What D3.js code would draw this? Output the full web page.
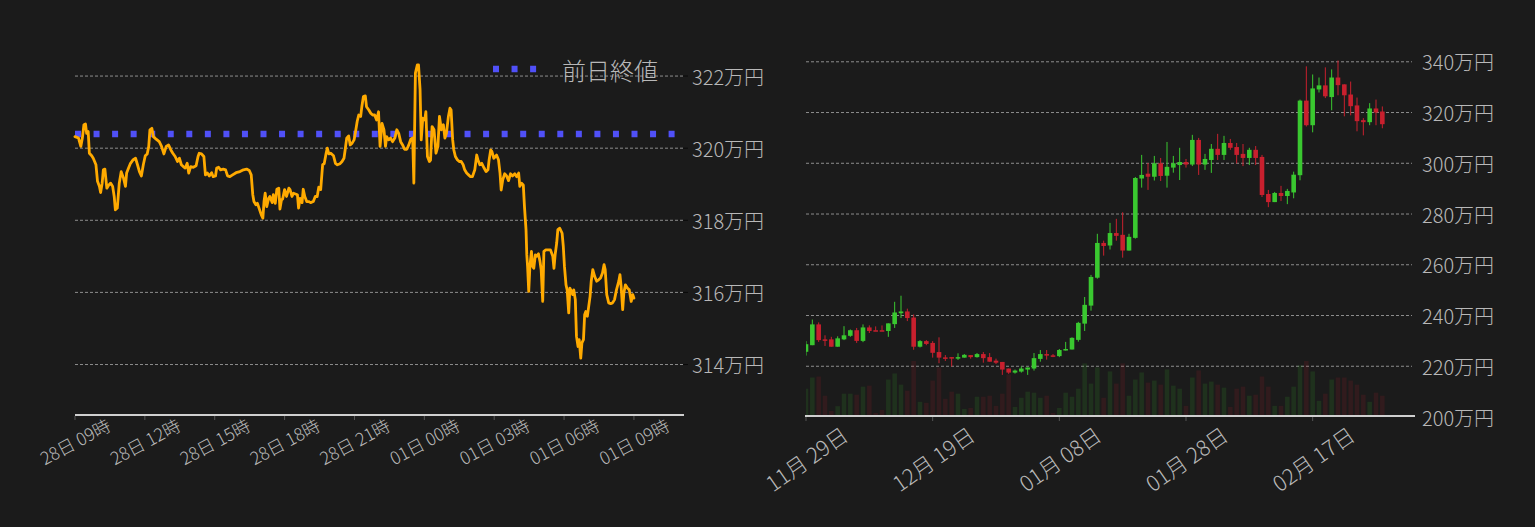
<!DOCTYPE html>
<html><head><meta charset="utf-8">
<script src="https://cdn.jsdelivr.net/npm/d3@7"></script>
<style>
html,body{margin:0;padding:0;background:#1b1b1b;}
svg{display:block;font-family:"Noto Sans CJK JP","Noto Sans",sans-serif;}
</style></head>
<body>
<svg id="chart" width="1535" height="527"></svg>
<script>
// ---------- Intraday (left) data: [minutes since 28日 09:00, price in 万円] ----------
const intradayStart = new Date(2025, 1, 28, 9, 0);
const intradayPoints = [
[0,320.32],[9,320.28],[15,320.05],[19,320.28],[23,320.65],[27,320.67],[30,320.41],[34,320.46],[37,319.86],[43,319.79],
[47,319.72],[54,319.54],[58,319.08],[63,318.94],[66,318.77],[70,319.03],[73,319.40],[77,319.42],[82,318.89],[87,318.98],
[92,319.03],[97,318.94],[101,318.66],[104,318.29],[109,318.34],[114,319.03],[119,319.35],[125,319.17],[130,318.94],[133,319.31],
[138,319.45],[143,319.58],[150,319.68],[156,319.72],[161,319.54],[166,319.35],[171,319.23],[176,319.54],[181,319.79],[186,319.84],
[190,320.05],[193,320.51],[198,320.55],[202,320.32],[209,320.25],[217,320.18],[223,320.05],[229,319.84],[235,320.05],[241,320.09],
[247,319.95],[252,319.86],[258,319.77],[264,319.63],[269,319.72],[274,319.54],[279,319.49],[284,319.45],[289,319.58],[293,319.31],
[298,319.49],[305,319.47],[312,319.51],[317,319.77],[320,319.86],[326,319.84],[332,319.77],[336,319.26],[341,319.31],[346,319.23],
[352,319.32],[356,319.21],[362,319.23],[365,319.45],[370,319.47],[375,319.40],[382,319.42],[388,319.40],[393,319.23],[399,319.21],
[406,319.26],[415,319.32],[425,319.35],[434,319.40],[442,319.42],[449,319.38],[454,319.26],[458,318.71],[461,318.52],[466,318.43],
[470,318.47],[475,318.31],[480,318.15],[484,318.06],[487,318.52],[490,318.75],[494,318.38],[499,318.61],[502,318.66],[508,318.49],
[511,318.71],[516,318.47],[520,318.86],[525,318.89],[528,318.31],[532,318.57],[535,318.59],[540,318.85],[545,318.66],[551,318.89],
[554,318.85],[559,318.66],[563,318.75],[568,318.73],[573,318.71],[576,318.34],[580,318.61],[585,318.49],[588,318.86],[592,318.66],
[597,318.52],[602,318.52],[607,318.49],[614,318.52],[619,318.66],[624,318.66],[628,318.92],[633,318.85],[638,319.54],[642,319.57],
[647,319.86],[650,320.00],[654,319.84],[659,319.86],[666,319.79],[671,319.58],[676,319.54],[683,319.57],[688,319.63],[693,319.72],
[696,319.95],[700,320.28],[705,320.34],[709,320.09],[714,320.14],[719,320.23],[722,320.41],[727,320.74],[731,320.92],[736,320.88],
[739,321.15],[743,321.43],[748,321.45],[751,321.15],[757,321.06],[762,320.97],[767,320.92],[772,320.92],[777,320.78],[782,321.01],
[786,320.05],[791,320.69],[796,320.51],[800,320.05],[803,320.32],[808,320.23],[813,320.28],[818,320.18],[824,320.28],[829,320.51],
[834,320.41],[839,320.18],[844,320.09],[849,319.97],[855,319.97],[860,320.09],[865,320.25],[870,320.28],[873,319.03],[877,322.08],
[882,322.31],[885,322.31],[889,321.63],[892,320.23],[896,320.83],[901,320.78],[904,321.01],[908,319.77],[913,319.63],[916,319.67],
[920,320.60],[925,320.51],[930,319.86],[935,320.05],[939,320.88],[944,320.51],[949,320.65],[953,320.28],[957,320.41],[962,320.88],
[966,321.11],[969,321.06],[973,320.23],[976,319.95],[980,319.77],[985,319.68],[990,319.63],[995,319.63],[1000,319.54],[1004,319.40],
[1009,319.31],[1014,319.26],[1019,319.21],[1024,319.21],[1030,319.40],[1035,319.81],[1038,319.68],[1043,319.54],[1048,319.58],[1054,319.45],
[1059,319.35],[1064,319.40],[1067,319.68],[1071,319.95],[1074,319.91],[1079,319.72],[1086,319.81],[1091,319.68],[1095,319.31],[1098,318.84],
[1102,319.12],[1107,319.29],[1112,319.23],[1117,319.10],[1122,319.29],[1127,319.23],[1133,319.29],[1138,319.21],[1143,319.31],[1146,318.94],
[1150,319.03],[1155,318.98],[1158,318.38],[1162,317.74],[1164,317.04],[1166,316.72],[1169,316.03],[1172,316.72],[1176,317.14],[1179,316.72],
[1182,316.67],[1186,317.04],[1189,317.00],[1194,317.07],[1198,316.86],[1201,316.63],[1205,315.75],[1208,317.14],[1213,317.18],[1220,317.18],
[1225,317.18],[1231,317.00],[1234,316.67],[1237,317.04],[1241,317.37],[1244,317.74],[1249,317.78],[1255,317.64],[1258,317.28],[1261,316.72],
[1265,316.21],[1268,316.07],[1272,315.43],[1275,316.12],[1279,316.03],[1282,315.94],[1285,316.07],[1289,315.80],[1292,314.78],[1296,314.50],
[1299,314.69],[1303,314.18],[1306,314.60],[1310,314.69],[1313,315.38],[1316,315.47],[1320,315.34],[1323,315.57],[1327,315.89],[1330,316.31],
[1334,316.63],[1339,316.44],[1344,316.31],[1349,316.35],[1354,316.40],[1359,316.54],[1363,316.77],[1366,316.63],[1370,315.94],[1375,315.71],
[1380,315.69],[1385,315.71],[1390,315.80],[1395,316.07],[1401,316.31],[1404,316.49],[1407,316.17],[1411,315.52],[1414,315.98],[1418,316.21],
[1423,316.12],[1428,316.07],[1433,315.75],[1437,315.94],[1440,315.84]
];
const previousClose = 320.39;
const leftYTicks = [314, 316, 318, 320, 322];
const leftXTickHours = [0, 3, 6, 9, 12, 15, 18, 21, 24];
const legendLabel = "前日終値";

// ---------- Daily candles (right) ----------
const candleStart = new Date(2024, 10, 29);
const candleOpen  = [225.7,228.3,236.5,230.6,230.6,227.7,230.6,232.0,234.2,230.0, 235.3,234.2,234.2,233.9,236.6,240.9,241.6,239.2,227.7,229.9,
  229.2,225.6,223.5,223.6,223.0,223.4,224.4,223.6,224.8,223.6, 222.2,221.7,219.1,217.5,217.9,218.7,219.1,222.9,224.8,224.3,
  224.0,226.2,226.6,230.4,236.8,243.9,254.9,268.6,267.6,272.5, 271.8,265.6,270.6,294.0,295.9,294.7,300.0,295.1,298.3,299.3,
  300.5,299.5,309.2,299.5,301.3,305.7,303.3,308.0,306.4,303.7, 302.1,305.3,302.5,287.9,284.7,288.3,287.1,288.5,295.3,324.7,
  315.0,329.1,330.7,326.1,333.8,331.1,327.1,322.8,317.0,316.2, 321.6,320.4];
const candleHigh  = [229.9,238.4,237.3,232.2,231.6,231.8,235.8,234.5,235.1,236.5, 236.1,235.7,236.1,236.9,245.4,247.8,242.7,240.4,230.3,230.3,
  229.9,231.4,224.4,223.6,225.1,224.8,224.4,225.2,225.6,225.2, 223.0,221.7,219.1,218.7,219.9,219.5,225.2,226.4,226.4,224.8,
  226.8,229.6,231.4,237.5,247.3,256.0,272.2,269.5,276.5,278.1, 280.7,272.2,294.6,303.3,300.1,302.9,302.1,308.4,302.9,306.1,
  301.7,311.2,310.0,303.7,307.6,311.6,310.8,309.6,308.0,307.6, 306.1,306.8,303.3,289.5,288.7,291.1,289.9,296.7,325.1,338.2,
  335.0,333.8,337.8,337.0,340.5,331.1,332.2,325.9,317.8,323.7, 325.1,322.4];
const candleLow   = [224.2,228.3,229.6,228.0,227.7,227.7,230.3,231.6,229.2,229.5, 233.1,234.0,234.0,231.6,235.1,239.0,237.8,226.5,227.4,228.3,
  223.4,221.2,222.1,219.9,222.5,223.4,223.0,223.4,221.4,221.8, 220.9,216.6,217.0,217.1,217.5,216.6,218.3,221.8,222.6,223.6,
  223.6,226.2,226.6,229.7,233.9,241.9,254.5,263.6,266.0,269.5, 262.8,265.6,270.3,290.4,289.5,293.2,293.0,290.4,296.3,293.4,
  298.3,298.9,295.4,297.4,296.2,301.3,301.3,305.3,299.9,298.9, 299.3,299.3,286.7,282.7,284.7,285.1,283.9,286.2,293.3,314.5,
  312.2,327.9,325.7,320.9,326.8,318.5,318.9,312.6,311.0,315.0, 315.0,313.8];
const candleClose = [228.7,236.5,230.3,230.3,227.7,231.0,232.2,234.2,230.0,235.3, 233.9,234.0,234.0,236.9,241.2,241.6,239.0,227.7,229.9,228.8,
  225.3,223.4,223.4,223.1,223.6,224.5,223.6,224.8,223.2,221.8, 221.4,218.7,217.5,218.3,219.1,219.5,223.2,224.8,224.2,224.2,
  226.4,226.8,231.2,237.1,244.2,255.2,268.6,267.4,272.5,271.4, 265.6,271.0,294.2,295.4,294.7,300.0,295.0,298.6,300.0,300.5,
  299.5,309.2,299.5,301.7,305.7,303.3,308.0,306.1,303.3,302.1, 305.3,302.1,287.5,284.7,288.3,287.1,289.1,295.5,324.7,315.0,
  329.5,330.7,326.4,333.8,330.8,326.8,322.5,316.6,316.2,321.6, 320.0,315.4];
const candleVolume = [81,114,117,60,15,29,66,66,63,87, 90,9,18,108,126,93,75,163,42,39,
  105,144,51,72,66,21,24,57,57,60, 30,66,123,27,54,72,69,54,60,9,
  24,69,57,81,156,96,144,54,132,96, 156,60,108,129,99,105,93,138,90,81,
  30,114,135,96,102,93,84,27,81,87, 60,63,117,87,30,30,57,87,150,163,
  132,45,66,108,114,114,105,93,63,42, 69,60];
const rightYTicks = [200, 220, 240, 260, 280, 300, 320, 340];
const rightXTickDays = [0, 20, 40, 60, 80];

// ---------- styles ----------
const BG = "#1b1b1b", GRID = "#9a9a9a", TXT = "#b8b8b8", AXIS = "#cfcfcf";
const ORANGE = "#ffaa00", BLUE = "#5050f8", UP = "#3ac830", DOWN = "#c8202e";

const svg = d3.select("#chart");
svg.append("rect").attr("width",1535).attr("height",527).attr("fill",BG);

// ================= LEFT CHART =================
const L = {x0:75, x1:684, yTop:40, yBot:415};
const lx = d3.scaleTime()
  .domain([intradayStart, d3.timeMinute.offset(intradayStart, 1569)])
  .range([L.x0, L.x1]);
const ly = d3.scaleLinear().domain([312.6, 323.0]).range([L.yBot, L.yTop]);
const gl = svg.append("g");

// grid
gl.selectAll("line.grid").data(leftYTicks).join("line")
  .attr("x1", L.x0).attr("x2", L.x1 - 1)
  .attr("y1", d => ly(d)).attr("y2", d => ly(d))
  .attr("stroke", GRID).attr("stroke-width", 0.9).attr("stroke-dasharray", "3,2");
gl.selectAll("line.ytk").data(leftYTicks).join("line")
  .attr("x1", L.x1 - 1).attr("x2", L.x1 + 4)
  .attr("y1", d => ly(d)).attr("y2", d => ly(d))
  .attr("stroke", "#0a0a0a").attr("stroke-width", 1);
gl.selectAll("text.ylab").data(leftYTicks).join("text")
  .attr("x", L.x1 + 8).attr("y", d => ly(d))
  .attr("dominant-baseline", "central")
  .attr("fill", TXT).attr("font-size", 20).attr("font-weight", 300)
  .text(d => d + "万円");

// previous close dotted line
gl.append("line")
  .attr("x1", lx.range()[0]).attr("x2", lx.range()[1])
  .attr("y1", ly(previousClose)).attr("y2", ly(previousClose))
  .attr("stroke", BLUE).attr("stroke-width", 6.5).attr("stroke-dasharray", "6,12.55");

// price line
const line = d3.line()
  .x(d => lx(d3.timeMinute.offset(intradayStart, d[0])))
  .y(d => ly(d[1]));
gl.append("path").datum(intradayPoints)
  .attr("d", line).attr("fill", "none")
  .attr("stroke", ORANGE).attr("stroke-width", 2.8)
  .attr("stroke-linejoin", "round").attr("stroke-linecap", "round");

// x axis
gl.append("line").attr("x1", L.x0).attr("x2", L.x1)
  .attr("y1", L.yBot).attr("y2", L.yBot)
  .attr("stroke", AXIS).attr("stroke-width", 2);
const lTickDates = leftXTickHours.map(h => d3.timeHour.offset(intradayStart, h));
const lfmt = d3.timeFormat("%d日 %H時");
gl.selectAll("line.xtk").data(lTickDates).join("line")
  .attr("x1", d => lx(d)).attr("x2", d => lx(d))
  .attr("y1", L.yBot + 1).attr("y2", L.yBot + 5)
  .attr("stroke", "#555").attr("stroke-width", 1);
gl.selectAll("text.xlab").data(lTickDates).join("text")
  .attr("transform", d => `translate(${lx(d)},${L.yBot + 26}) rotate(-28)`)
  .attr("text-anchor", "middle").attr("dominant-baseline", "central")
  .attr("fill", TXT).attr("font-size", 17.5).attr("font-weight", 300)
  .text(d => lfmt(d));

// legend
gl.append("line").attr("x1", 493).attr("x2", 540).attr("y1", 69).attr("y2", 69)
  .attr("stroke", BLUE).attr("stroke-width", 6.5).attr("stroke-dasharray", "6,12.55");
gl.append("text").attr("x", 562).attr("y", 69)
  .attr("dominant-baseline", "central")
  .attr("fill", TXT).attr("font-size", 24).attr("font-weight", 300)
  .text(legendLabel);

// ================= RIGHT CHART =================
const R = {x0:806, x1:1414, yTop:49.1, yBot:417};
const rx = d3.scaleTime()
  .domain([candleStart, d3.timeDay.offset(candleStart, 96)])
  .range([R.x0, R.x1]);
const ry = d3.scaleLinear().domain([200, 345]).range([R.yBot, R.yTop]);
const vy = d3.scaleLinear().domain([0, 163]).range([416, 361]);
const gr = svg.append("g");

svg.append("clipPath").attr("id", "rclip").append("rect")
  .attr("x", R.x0).attr("y", 0).attr("width", R.x1 - R.x0).attr("height", 416);

gr.selectAll("line.grid").data(rightYTicks.filter(d => d > 200)).join("line")
  .attr("x1", R.x0).attr("x2", R.x1 - 2)
  .attr("y1", d => ry(d)).attr("y2", d => ry(d))
  .attr("stroke", GRID).attr("stroke-width", 0.9).attr("stroke-dasharray", "3,2");
gr.selectAll("text.ylab").data(rightYTicks).join("text")
  .attr("x", R.x1 + 8).attr("y", d => ry(d))
  .attr("dominant-baseline", "central")
  .attr("fill", TXT).attr("font-size", 20).attr("font-weight", 300)
  .text(d => d + "万円");

const candles = candleOpen.map((o, i) => ({
  date: d3.timeDay.offset(candleStart, i),
  o, h: candleHigh[i], l: candleLow[i], c: candleClose[i], v: candleVolume[i]
}));
const bw = 4.6;
const cg = gr.append("g").attr("clip-path", "url(#rclip)");

// volume bars
cg.selectAll("rect.vol").data(candles).join("rect")
  .attr("x", d => rx(d.date) - bw / 2).attr("width", bw)
  .attr("y", d => vy(d.v)).attr("height", d => vy(0) - vy(d.v))
  .attr("fill", d => d.c >= d.o ? UP : DOWN).attr("fill-opacity", 0.13);

// wicks
cg.selectAll("line.wick").data(candles).join("line")
  .attr("x1", d => rx(d.date)).attr("x2", d => rx(d.date))
  .attr("y1", d => ry(d.h)).attr("y2", d => ry(d.l))
  .attr("stroke", d => d.c >= d.o ? UP : DOWN).attr("stroke-width", 1);
// bodies
cg.selectAll("rect.body").data(candles).join("rect")
  .attr("x", d => rx(d.date) - bw / 2).attr("width", bw)
  .attr("y", d => ry(Math.max(d.o, d.c)))
  .attr("height", d => Math.max(1.5, Math.abs(ry(d.o) - ry(d.c))))
  .attr("fill", d => d.c >= d.o ? UP : DOWN);

// x axis
gr.append("line").attr("x1", R.x0 - 1).attr("x2", R.x1 + 1)
  .attr("y1", 416).attr("y2", 416)
  .attr("stroke", AXIS).attr("stroke-width", 2);
const rTickDates = rightXTickDays.map(d => d3.timeDay.offset(candleStart, d));
const rfmt = d3.timeFormat("%m月 %d日");
gr.selectAll("line.xtk").data(rTickDates).join("line")
  .attr("x1", d => rx(d)).attr("x2", d => rx(d))
  .attr("y1", 417).attr("y2", 421)
  .attr("stroke", "#555").attr("stroke-width", 1);
gr.selectAll("text.xlab").data(rTickDates).join("text")
  .attr("transform", d => `translate(${rx(d)},${458}) rotate(-35)`)
  .attr("text-anchor", "middle").attr("dominant-baseline", "central")
  .attr("fill", TXT).attr("font-size", 21.5).attr("font-weight", 300)
  .text(d => rfmt(d));
</script>
</body></html>
